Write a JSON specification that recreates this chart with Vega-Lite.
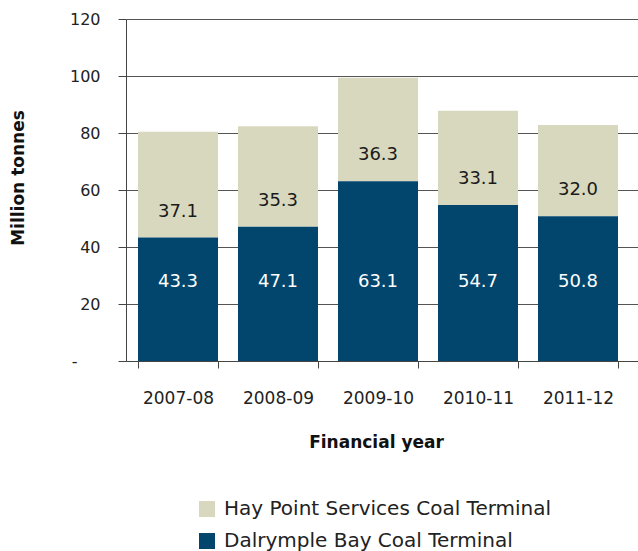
{
  "$schema": "https://vega.github.io/schema/vega-lite/v6.json",
  "width": 512,
  "height": 342,
  "autosize": {"type": "none"},
  "padding": {"left": 126, "top": 19, "right": 0, "bottom": 190},
  "background": "white",
  "config": {"font": "DejaVu Sans", "view": {"stroke": null}},
  "data": {
    "values": [
      {"year": "2007-08", "Dalrymple Bay Coal Terminal": 43.3, "Hay Point Services Coal Terminal": 37.1},
      {"year": "2008-09", "Dalrymple Bay Coal Terminal": 47.1, "Hay Point Services Coal Terminal": 35.3},
      {"year": "2009-10", "Dalrymple Bay Coal Terminal": 63.1, "Hay Point Services Coal Terminal": 36.3},
      {"year": "2010-11", "Dalrymple Bay Coal Terminal": 54.7, "Hay Point Services Coal Terminal": 33.1},
      {"year": "2011-12", "Dalrymple Bay Coal Terminal": 50.8, "Hay Point Services Coal Terminal": 32.0}
    ]
  },
  "layer": [
    {
      "transform": [
        {"fold": ["Hay Point Services Coal Terminal", "Dalrymple Bay Coal Terminal"], "as": ["terminal", "value"]}
      ],
      "mark": {"type": "bar"},
      "encoding": {
        "x": {
          "field": "year",
          "type": "nominal",
          "title": "Financial year",
          "scale": {"paddingInner": 0.2, "paddingOuter": 0.16, "align": 0.375},
          "axis": {
            "labelAngle": 0,
            "labelFont": "DejaVu Sans",
            "labelFontSize": 17,
            "labelColor": "#222222",
            "labelBaseline": "middle",
            "labelPadding": 30,
            "tickBand": "extent",
            "tickSize": 7,
            "tickColor": "#444444",
            "domainColor": "#444444",
            "titleFont": "DejaVu Sans",
            "titleFontSize": 17,
            "titleFontWeight": "bold",
            "titleColor": "#111111",
            "titleX": 250,
            "titleY": 81,
            "titleBaseline": "middle"
          }
        },
        "y": {
          "field": "value",
          "type": "quantitative",
          "stack": "zero",
          "title": "Million tonnes",
          "scale": {"domain": [0, 120], "nice": false},
          "axis": {
            "values": [0, 20, 40, 60, 80, 100, 120],
            "labelExpr": "datum.value === 0 ? '-' : datum.label",
            "labelFont": "DejaVu Sans",
            "labelFontSize": 16,
            "labelColor": "#222222",
            "labelPadding": {"condition": {"test": "datum.value === 0", "value": 41}, "value": 18},
            "tickSize": 8,
            "tickColor": "#444444",
            "domainColor": "#444444",
            "gridColor": "#555555",
            "gridWidth": 1,
            "titleFont": "DejaVu Sans",
            "titleFontSize": 17,
            "titleFontWeight": "bold",
            "titleColor": "#111111",
            "titleX": -108,
            "titleY": 158.5,
            "titleBaseline": "middle"
          }
        },
        "color": {
          "field": "terminal",
          "type": "nominal",
          "scale": {
            "domain": ["Hay Point Services Coal Terminal", "Dalrymple Bay Coal Terminal"],
            "range": ["#D8D8BE", "#02466E"]
          },
          "legend": {
            "orient": "none",
            "legendX": 71,
            "legendY": 480,
            "direction": "vertical",
            "title": null,
            "padding": 0,
            "symbolType": "square",
            "symbolSize": 256,
            "symbolStrokeWidth": 0,
            "labelFont": "DejaVu Sans",
            "labelFontSize": 20,
            "labelColor": "#222222",
            "labelOffset": 7,
            "labelLimit": 0,
            "rowPadding": 12
          }
        },
        "order": {"field": "terminal", "sort": "ascending"}
      }
    },
    {
      "mark": {"type": "text", "dy": -79.5, "color": "#ffffff", "fontSize": 18, "baseline": "middle", "font": "DejaVu Sans"},
      "encoding": {
        "x": {"field": "year", "type": "nominal", "title": "Financial year"},
        "y": {"datum": 0, "type": "quantitative", "title": "Million tonnes"},
        "text": {"field": "Dalrymple Bay Coal Terminal", "type": "quantitative", "format": ".1f"}
      }
    },
    {
      "mark": {"type": "text", "dy": -26, "color": "#1a1a1a", "fontSize": 18, "baseline": "middle", "font": "DejaVu Sans"},
      "encoding": {
        "x": {"field": "year", "type": "nominal", "title": "Financial year"},
        "y": {"field": "Dalrymple Bay Coal Terminal", "type": "quantitative", "title": "Million tonnes"},
        "text": {"field": "Hay Point Services Coal Terminal", "type": "quantitative", "format": ".1f"}
      }
    }
  ]
}
